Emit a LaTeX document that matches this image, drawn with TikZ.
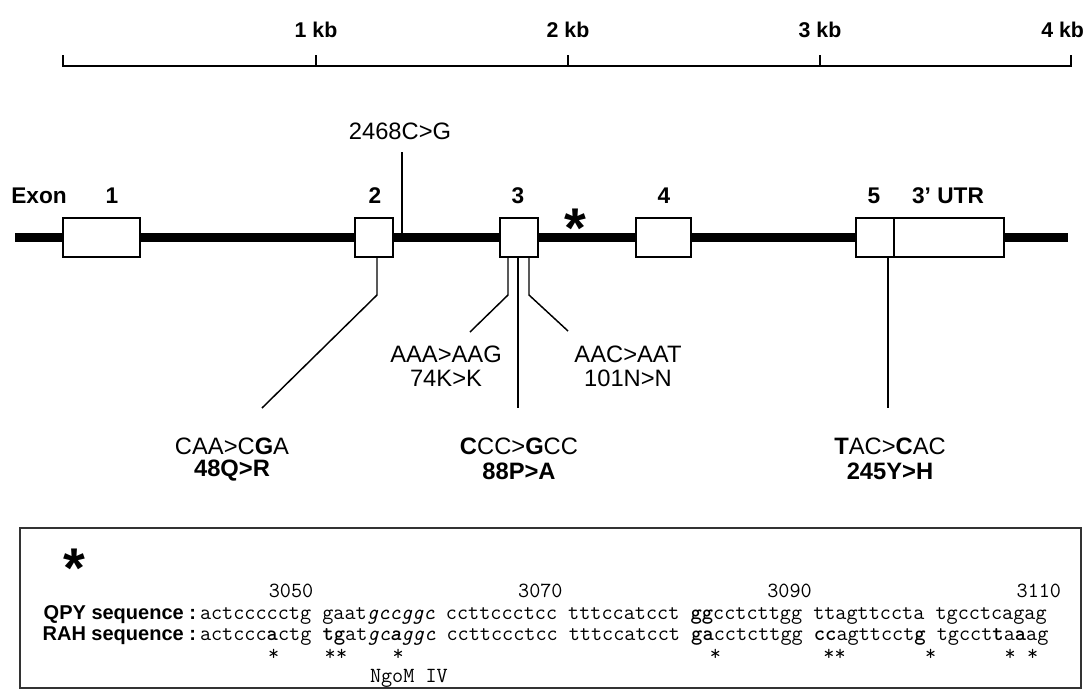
\documentclass[tikz,border=0pt]{standalone}
\usepackage{fontspec}
\setmainfont{Liberation Sans}
\usetikzlibrary{calc}
\begin{document}
\begin{tikzpicture}[x=0.75pt,y=-0.75pt,
  every node/.style={inner sep=0pt, outer sep=0pt},
  kblab/.style={font=\fontsize{16}{18}\selectfont\bfseries},
  exlab/.style={font=\fontsize{17}{19}\selectfont\bfseries},
  mutlab/.style={font=\fontsize{17.8}{20}\selectfont},
  bmutlab/.style={font=\fontsize{17.8}{20}\selectfont\bfseries},
  bigstar/.style={font=\fontsize{42}{44}\selectfont\bfseries, anchor=base},
  exonbox/.style={draw, line width=1.9pt, fill=white, minimum height=29.25pt},
  callout/.style={line width=1.1pt},
  seqlab/.style={font=\fontsize{15}{17}\selectfont\bfseries, anchor=base east},
  seq/.style={font=\fontsize{16.19}{18}\selectfont\ttfamily, anchor=base west},
  seqnum/.style={font=\fontsize{16.19}{18}\selectfont\ttfamily, anchor=base east},
  seqstar/.style={font=\fontsize{16.19}{18}\selectfont\ttfamily, anchor=base}
]
\useasboundingbox (0,0) rectangle (1085,690);

% ruler
\coordinate (r0) at (63,66);
\coordinate (r4) at (1071,66);
\draw[line width=1.5pt] (63,55) -- (r0) -- (r4) -- (1071,55);
\foreach \x in {316,568,820} \draw[line width=1.5pt] (\x,66) -- (\x,55);
\node[kblab] (kb1) at (316,30) {1 kb};
\node[kblab] (kb2) at (568,30) {2 kb};
\node[kblab] (kb3) at (820,30) {3 kb};
\node[kblab, anchor=east] (kb4) at (1084,30) {4 kb};

% gene line
\coordinate (gL) at (15,237);
\coordinate (gR) at (1068,237);
\draw[line width=6.75pt] (gL) -- (gR);

% exons
\node[exonbox, minimum width=57.75pt] (e1) at (101.5,237.5) {};
\node[exonbox, minimum width=28.5pt] (e2) at (374,237.5) {};
\node[exonbox, minimum width=28.5pt] (e3) at (519,237.5) {};
\node[exonbox, minimum width=41.25pt] (e4) at (663.5,237.5) {};
\node[exonbox, minimum width=28.5pt] (e5) at (875,237.5) {};
\node[exonbox, minimum width=82.5pt] (utr) at (949,237.5) {};

\node[exlab] (lexon) at (39,196) {Exon};
\node[exlab] (l1) at (112,196) {1};
\node[exlab] (l2) at (375,196) {2};
\node[exlab] (l3) at (518,196) {3};
\node[exlab] (l4) at (664,196) {4};
\node[exlab] (l5) at (874,196) {5};
\node[exlab] (lutr) at (948,196) {3’ UTR};
\node[bigstar] (gstar) at (575,247) {*};

% 2468C>G
\node[mutlab] (m2468) at (400,131) {2468C>G};
\coordinate (t2468) at (402,152);
\draw[callout] (t2468) -- (t2468 |- gR);

% exon 2 callout
\coordinate (c48) at (262,408);
\draw[callout] ($(e2.south)+(3,0)$) -- ++(0,38) -- (c48);
\node[mutlab] (m48a) at (232,446) {CAA>C\textbf{G}A};
\node[bmutlab] (m48b) at (232,471) {48Q>R};

% exon 3 callouts
\coordinate (c74) at (470,332);
\coordinate (c88) at (518,408);
\coordinate (c101) at (568,331);
\draw[callout] ($(e3.south)+(-11,0)$) -- ++(0,38) -- (c74);
\draw[callout] ($(e3.south)+(-1,0)$) -- (c88);
\draw[callout] ($(e3.south)+(10,0)$) -- ++(0,38) -- (c101);
\node[mutlab] (m74a) at (446,354) {AAA>AAG};
\node[mutlab] (m74b) at (446,378) {74K>K};
\node[mutlab] (m101a) at (628,354) {AAC>AAT};
\node[mutlab] (m101b) at (628,378) {101N>N};
\node[mutlab] (m88a) at (519,446) {\textbf{C}CC>\textbf{G}CC};
\node[bmutlab] (m88b) at (519,471) {88P>A};

% exon 5 callout
\coordinate (c245) at (888,408);
\draw[callout] (c245 |- e5.south) -- (c245);
\node[mutlab] (m245a) at (890,446) {\textbf{T}AC>\textbf{C}AC};
\node[bmutlab] (m245b) at (890,471) {245Y>H};

% sequence box
\draw[line width=1.4pt, black!80] (20,528) rectangle (1081,688);
\node[bigstar] (bstar) at (74,587) {*};

\node[seqnum] (n3050) at (313.3,597) {3050};
\node[seqnum] (n3070) at (562.6,597) {3070};
\node[seqnum] (n3090) at (811.8,597) {3090};
\node[seqnum] (n3110) at (1061.1,597) {3110};

\node[seqlab] (qpy) at (196,619) {QPY sequence :};
\node[seqlab] (rah) at (196,640) {RAH sequence :};

\node[seq] (sq) at (200,619) {actccccctg gaat\textit{gccggc} ccttccctcc tttccatcct \textbf{gg}cctcttgg ttagttccta tgcctcagag};
\node[seq] (sr) at (200,640) {actccc\textbf{a}ctg \textbf{tg}at\textit{gc\textbf{a}ggc} ccttccctcc tttccatcct \textbf{ga}cctcttgg \textbf{cc}agttcct\textbf{g} tgcct\textbf{t}a\textbf{a}ag};

\foreach \i [count=\k] in {6,11,12,17,45,55,56,64,71,73}
  \node[seqstar] (s\k) at ({200+(\i+0.5)*11.33},660) {*};

\node[seq] (ngo) at (370,682.5) {NgoM IV};
\end{tikzpicture}
\end{document}
